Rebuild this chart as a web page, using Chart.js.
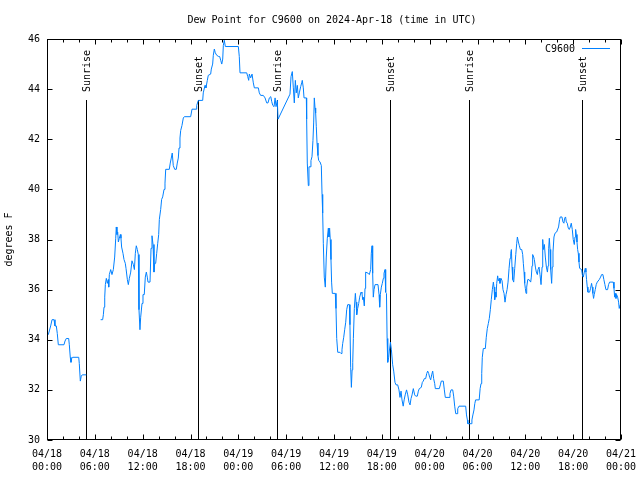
<!DOCTYPE html>
<html>
<head>
<meta charset="utf-8">
<script src="https://cdn.jsdelivr.net/npm/chart.js@4.4.1/dist/chart.umd.min.js"></script>
<style>
  html, body { margin: 0; padding: 0; background: #fff; }
</style>
</head>
<body>
<canvas id="chart" width="640" height="480"></canvas>
<script>
// hours since 04/18 00:00 UTC, null = missing data
const hours = [
  0.16, 0.29, 0.46, 0.63, 0.88, 1.0, 1.17, 1.29, 1.42, 2.13, 2.26, 2.42, 2.72, 2.8, 2.92, 3.01, 3.1, 3.22, 3.98, 4.05,
  4.18, 4.3, 4.43, 4.93, 5.8,
  6.73, 6.98, 7.07, 7.15, 7.24, 7.32, 7.44, 7.57, 7.69, 7.74, 7.82, 7.99, 8.15, 8.32, 8.49, 8.62, 8.69, 8.78, 8.87, 8.95,
  9.07, 9.2, 9.28, 9.36, 9.53, 9.66, 9.82, 9.91, 10.08, 10.2, 10.33, 10.5, 10.66, 10.83, 10.96, 11.08, 11.2, 11.33, 11.45,
  11.54, 11.66, 11.75, 11.92, 12.04, 12.2, 12.33, 12.46, 12.58, 12.67, 12.92, 13.05, 13.17, 13.3, 13.42, 13.51, 13.63,
  13.76, 13.89, 14.01, 14.09, 14.26, 14.38, 14.51, 14.68, 14.8, 14.89, 15.34, 15.46, 15.59, 15.71, 15.84, 16.02, 16.22,
  16.34, 16.47, 16.56, 16.68, 16.77, 16.93, 17.1, 17.23, 18.02, 18.19, 18.69, 18.78, 18.98, 19.53, 19.6, 19.82, 19.94,
  20.11, 20.23, 20.53, 20.61, 20.78, 20.86, 20.99, 21.11, 21.29, 21.54, 21.66, 21.79, 21.92, 22.04, 22.12, 22.24, 22.37,
  24.0, 24.12, 24.21, 25.05, 25.18, 25.3, 25.38, 25.55, 25.72, 25.88, 26.01, 26.51, 26.63, 26.8, 27.13, 27.35, 27.56,
  27.72, 27.89, 28.07, 28.19, 28.32, 28.48, 28.61, 28.73, 28.89, 28.98,
  30.48, 30.61, 30.77, 30.9, 31.02, 31.15, 31.27, 31.4, 31.52, 31.65, 31.82, 31.95, 32.02, 32.15, 32.24, 32.53, 32.57,
  32.65, 32.78, 32.86, 32.99, 33.11, 33.24, 33.36, 33.45, 33.53, 33.62, 33.7, 33.78, 33.87, 33.99, 34.08, 34.24, 34.41,
  34.5, 34.58, 34.66, 34.78, 34.91, 35.03, 35.16, 35.29, 35.37, 35.45, 35.53, 35.62, 35.7, 35.79, 36.16, 36.25, 36.34,
  36.47, 36.75, 36.88, 37.0, 37.09, 37.22, 37.34, 37.47, 37.59, 37.72, 37.93, 38.0, 38.09, 38.18, 38.27, 38.35, 38.43,
  38.55, 38.68, 38.76, 38.85, 38.97, 39.1, 39.22, 39.39, 39.51, 39.6, 39.68, 39.8, 39.89, 39.97, 40.3, 40.43, 40.6,
  40.68, 40.77, 40.85, 40.93, 41.02, 41.15, 41.52, 41.65, 41.73, 41.81, 41.94, 42.06, 42.19, 42.27, 42.4, 42.48, 42.58,
  42.66, 42.74, 42.86, 42.94, 43.08, 43.2, 43.36, 43.49, 43.65, 43.78, 43.99, 44.15, 44.28, 44.41, 44.53, 44.68, 44.8,
  44.93, 45.1, 45.25, 45.41, 45.54, 45.66, 45.79, 45.95, 46.12, 46.25, 46.45, 46.58, 46.7, 46.95, 47.08, 47.2, 47.33,
  47.5, 47.63, 47.75, 47.88, 48.0, 48.13, 48.25, 48.38, 48.5, 48.63, 48.71, 49.21, 49.34, 49.46, 49.71, 49.84, 49.96,
  50.43, 50.55, 50.68, 50.89, 51.01, 51.14, 51.27, 51.43, 51.52, 51.68, 52.52, 52.62, 52.73, 52.79, 53.2, 53.3, 53.42,
  53.56, 53.66, 53.76, 54.21, 54.33, 54.44, 54.53, 54.6, 54.73, 54.98, 55.1, 55.23, 55.36, 55.48, 55.61, 55.73, 55.86,
  55.99, 56.07, 56.16, 56.24, 56.32, 56.41, 56.53, 56.61, 56.74, 56.82, 56.95, 57.08, 57.2, 57.33, 57.45, 57.58, 57.71,
  57.83, 57.96, 58.08, 58.17, 58.25, 58.33, 58.42, 58.54, 58.67, 58.8, 58.92, 59.0, 59.13, 59.25, 59.38, 59.55, 59.67,
  59.75, 59.84, 59.92, 60.0, 60.09, 60.17, 60.3, 60.46, 60.67, 60.75, 60.84, 60.92, 61.05, 61.13, 61.26, 61.38, 61.51,
  61.59, 61.72, 61.84, 61.97, 62.1, 62.18, 62.26, 62.39, 62.51, 62.64, 62.77, 62.85, 62.93, 63.01, 63.1, 63.18, 63.3,
  63.38, 63.47, 63.59, 63.72, 63.93, 64.17, 64.3, 64.38, 64.59, 64.72, 64.84, 64.93, 65.05, 65.14, 65.26, 65.39, 65.51,
  65.64, 65.76, 65.89, 66.01, 66.14, 66.23, 66.31, 66.39, 66.48, 66.56, 66.64, 66.73, 66.81, 67.06, 67.15, 67.27, 67.4,
  67.52, 67.6, 67.68, 67.77, 67.85, 68.06, 68.18, 68.31, 68.39, 68.47, 68.56, 68.64, 68.77, 68.89, 69.02, 69.27, 69.44,
  69.57, 69.73, 69.85, 69.98, 70.11, 70.32, 70.44, 70.57, 71.03, 71.12, 71.2, 71.28, 71.37, 71.45, 71.58, 71.7, 71.78,
  71.9
];
const dewPoint = [
  34.2, 34.35, 34.55, 34.8, 34.8, 34.55, 34.55, 34.25, 33.8, 33.8, 33.95, 34.05, 34.05, 33.8, 33.3, 33.1, 33.25, 33.3, 33.3, 33.05,
  32.35, 32.55, 32.6, 32.6, null,
  34.8, 34.8, 35.0, 35.3, 35.7, 36.2, 36.45, 36.25, 36.4, 36.1, 36.6, 36.8, 36.6, 36.8, 37.3, 38.05, 38.5, 38.2, 38.3, 37.9,
  38.05, 38.2, 38.05, 37.7, 37.45, 37.2, 37.05, 36.85, 36.4, 36.2, 36.45, 36.7, 37.15, 37.0, 36.8, 37.45, 37.75, 37.6, 37.4,
  35.2, 34.4, 34.9, 35.45, 35.8, 35.8, 36.5, 36.7, 36.5, 36.3, 36.3, 37.65, 38.15, 37.8, 36.7, 37.05, 37.05,
  37.45, 37.85, 38.2, 38.8, 39.2, 39.6, 39.7, 40.0, 40.25, 40.8, 40.8, 41.05, 41.25, 41.45, 40.95, 40.8, 40.8,
  41.05, 41.25, 41.65, 42.05, 42.35, 42.55, 42.85, 42.9, 42.9, 43.2, 43.2, 43.35, 43.55, 43.55, 43.85, 44.15, 44.05,
  44.35, 44.55, 44.6, 44.8, 45.0, 45.35, 45.6, 45.45, 45.35, 45.3, 45.3, 45.15, 45.0, 45.2, 45.75, 45.95, 45.7,
  45.7, 45.3, 44.65, 44.65, 44.5, 44.35, 44.6, 44.45, 44.6, 44.25, 44.05, 44.05, 43.85, 43.75, 43.75, 43.65, 43.45,
  43.45, 43.65, 43.7, 43.5, 43.35, 43.3, 43.65, 43.3, 43.55, 42.8,
  43.8, 44.5, 44.7, 44.05, 43.45, 44.35, 43.85, 44.15, 43.65, 43.85, 44.1, 44.25, 44.35, 44.05, 43.65, 43.65, 42.8,
  41.05, 40.15, 40.9, 40.9, 41.15, 41.3, 41.95, 42.65, 43.65, 43.25, 43.05, 42.5, 41.85, 41.35, 41.15, 41.1, 40.95,
  39.8, 39.05, 37.85, 36.5, 36.1, 37.3, 38.05, 38.45, 38.1, 38.45, 38.0, 37.2, 36.3, 35.85, 35.85, 35.25, 34.05,
  33.5, 33.5, 33.45, 33.6, 33.85, 34.1, 34.4, 34.7, 35.2, 35.4, 35.4, 34.6, 32.9, 32.1, 32.8, 33.1, 34.05,
  35.25, 35.85, 35.5, 35.0, 35.25, 35.45, 35.7, 35.9, 35.85, 35.6, 35.7, 35.35, 36.05, 36.7, 36.65, 36.6, 36.8,
  37.45, 37.75, 36.65, 35.7, 36.0, 36.2, 36.2, 35.8, 35.3, 35.8, 36.1, 36.25, 36.45, 36.65, 36.8, 35.9, 35.85,
  34.05, 33.1, 33.3, 33.55, 33.9, 33.6, 33.0, 32.75, 32.3, 32.2, 32.2, 32.0, 31.7, 31.95, 31.6, 31.35, 31.6,
  31.8, 32.0, 31.8, 31.5, 31.4, 31.65, 31.8, 32.05, 31.8, 31.75, 31.75, 31.95, 32.05, 32.1, 32.3, 32.35, 32.45,
  32.45, 32.65, 32.75, 32.65, 32.5, 32.4, 32.6, 32.75, 32.45, 32.25, 32.05, 32.05, 32.2, 32.35, 32.35, 32.0, 31.7,
  31.7, 31.85, 32.0, 32.0, 31.75, 31.35, 31.05, 31.05, 31.25, 31.35, 31.35, 31.0, 30.8, 30.65, 30.65, 30.8, 31.0,
  31.2, 31.45, 31.6, 31.6, 32.05, 32.25, 32.65, 33.3, 33.65, 33.65, 34.1, 34.45, 34.65, 34.85, 35.2, 35.6, 36.0,
  36.3, 36.1, 35.6, 35.9, 35.7, 36.25, 36.55, 36.35, 36.45, 36.25, 36.45, 36.35, 36.0, 35.85, 35.5, 35.8, 36.0,
  36.3, 36.85, 37.25, 37.45, 37.6, 36.9, 36.4, 36.3, 36.85, 37.4, 37.85, 38.1, 37.9, 37.75, 37.6, 37.6, 37.4,
  37.05, 36.7, 36.25, 36.05, 35.85, 36.1, 36.4, 36.4, 36.3, 36.5, 36.95, 37.4, 37.3, 37.2, 36.9, 36.7, 36.6,
  36.8, 36.9, 36.6, 36.2, 36.9, 38.0, 37.6, 37.8, 37.3, 36.9, 36.7, 36.95, 37.65, 38.05, 37.6, 36.8, 36.25,
  36.9, 37.5, 38.1, 38.25, 38.3, 38.5, 38.8, 38.9, 38.9, 38.7, 38.65, 38.85, 38.9, 38.7, 38.65, 38.45, 38.4,
  38.5, 38.65, 38.4, 38.0, 37.8, 38.1, 38.4, 38.2, 37.9, 37.6, 37.45, 37.1, 36.85, 36.8, 36.6, 36.5, 36.7,
  36.85, 36.7, 36.4, 36.1, 35.9, 35.9, 36.05, 36.25, 36.1, 35.85, 35.65, 35.8, 36.0, 36.2, 36.3, 36.4, 36.5,
  36.6, 36.6, 36.4, 36.2, 36.0, 36.0, 36.2, 36.3, 36.3, 36.05, 35.7, 35.85, 35.65, 35.8, 35.7, 35.5, 35.25,
  35.4
];

const xTickLabels = [
  ['04/18', '00:00'], ['04/18', '06:00'], ['04/18', '12:00'], ['04/18', '18:00'],
  ['04/19', '00:00'], ['04/19', '06:00'], ['04/19', '12:00'], ['04/19', '18:00'],
  ['04/20', '00:00'], ['04/20', '06:00'], ['04/20', '12:00'], ['04/20', '18:00'],
  ['04/21', '00:00']
];
const sunTimes = [4.93, 18.98, 28.9, 43.03, 52.88, 67.08];
const sunLabels = ['Sunrise', 'Sunset', 'Sunrise', 'Sunset', 'Sunrise', 'Sunset'];

const FONT = '"DejaVu Sans Mono", "Liberation Mono", monospace';
const lineColor = '#0080ff';

// sunrise / sunset markers under the data
const sunMarks = {
  id: 'sunMarks',
  beforeDatasetsDraw(chart) {
    const { ctx, chartArea: a, scales: { x } } = chart;
    ctx.save();
    ctx.strokeStyle = '#000';
    ctx.lineWidth = 1;
    ctx.fillStyle = '#000';
    ctx.font = '10px ' + FONT;
    sunTimes.forEach((t, i) => {
      const px = Math.round(x.getPixelForValue(t)) + 0.5;
      ctx.beginPath();
      ctx.moveTo(px, 100);
      ctx.lineTo(px, a.bottom);
      ctx.stroke();
      ctx.save();
      ctx.translate(px + 1, 92);
      ctx.rotate(-Math.PI / 2);
      ctx.textAlign = 'left';
      ctx.textBaseline = 'middle';
      ctx.fillText(sunLabels[i], 0, 0);
      ctx.restore();
    });
    ctx.restore();
  }
};

// gnuplot style frame, inward ticks, title and key
const frame = {
  id: 'frame',
  afterDraw(chart) {
    const { ctx, chartArea: a, scales: { x, y } } = chart;
    const L = a.left + 0.5, R = a.right - 0.5, T = a.top + 0.5, B = a.bottom - 0.5;
    ctx.save();
    ctx.strokeStyle = '#000';
    ctx.lineWidth = 1;
    ctx.strokeRect(L, T, R - L, B - T);
    ctx.beginPath();
    for (let h = 0; h <= 72; h += 2) {
      const len = h % 6 === 0 ? 5 : 3;
      const px = Math.round(x.getPixelForValue(h)) + 0.5;
      ctx.moveTo(px, B); ctx.lineTo(px, B - len);
      ctx.moveTo(px, T); ctx.lineTo(px, T + len);
    }
    y.ticks.forEach(t => {
      const py = Math.round(y.getPixelForValue(t.value)) + 0.5;
      ctx.moveTo(L, py); ctx.lineTo(L + 5, py);
      ctx.moveTo(R, py); ctx.lineTo(R - 5, py);
    });
    ctx.stroke();

    ctx.fillStyle = '#000';
    ctx.font = '10px ' + FONT;
    ctx.textBaseline = 'middle';
    ctx.textAlign = 'center';
    ctx.fillText('Dew Point for C9600 on 2024-Apr-18 (time in UTC)', 332, 20);

    ctx.textAlign = 'right';
    ctx.fillText('C9600', 575, 49);
    ctx.strokeStyle = lineColor;
    ctx.beginPath();
    ctx.moveTo(582, 48.5);
    ctx.lineTo(610, 48.5);
    ctx.stroke();
    ctx.restore();
  }
};

new Chart(document.getElementById('chart'), {
  type: 'line',
  data: {
    datasets: [{
      label: 'C9600',
      data: hours.map((h, i) => ({ x: h, y: dewPoint[i] })),
      borderColor: lineColor,
      borderWidth: 1,
      pointRadius: 0,
      tension: 0,
      spanGaps: false,
      fill: false
    }]
  },
  options: {
    responsive: false,
    animation: false,
    devicePixelRatio: 1,
    layout: { padding: { top: 39, right: 19, left: 0, bottom: 0 } },
    plugins: {
      legend: { display: false },
      title: { display: false },
      tooltip: { enabled: false }
    },
    scales: {
      x: {
        type: 'linear',
        min: 0,
        max: 72,
        grid: { display: false, drawTicks: false },
        border: { display: false },
        afterFit: s => { s.height = 40; s.paddingLeft = 0; s.paddingRight = 0; },
        ticks: {
          stepSize: 6,
          autoSkip: false,
          maxRotation: 0,
          padding: 7.5,
          color: '#000',
          font: { family: FONT, size: 10, lineHeight: 1.3 },
          callback: v => xTickLabels[Math.round(v / 6)]
        }
      },
      y: {
        min: 30,
        max: 46,
        grid: { display: false, drawTicks: false },
        border: { display: false },
        afterFit: s => { s.width = 47; s.paddingTop = 0; s.paddingBottom = 0; },
        title: {
          display: true,
          text: 'degrees F',
          color: '#000',
          font: { family: FONT, size: 10, lineHeight: 1.2 },
          padding: { top: 3, bottom: 0 }
        },
        ticks: {
          stepSize: 2,
          padding: 7,
          color: '#000',
          font: { family: FONT, size: 10 }
        }
      }
    }
  },
  plugins: [sunMarks, frame]
});
</script>
</body>
</html>
